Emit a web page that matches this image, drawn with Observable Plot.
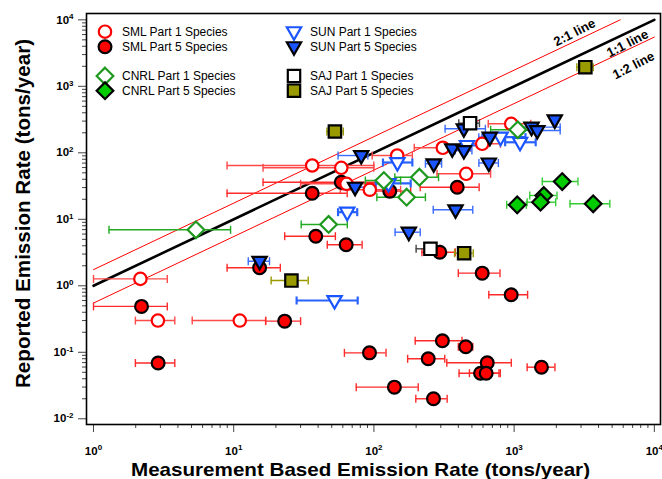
<!DOCTYPE html>
<html><head><meta charset="utf-8">
<script src="https://cdn.jsdelivr.net/npm/d3@7"></script>
<script src="https://cdn.jsdelivr.net/npm/@observablehq/plot@0.6"></script>
<style>
body{margin:0;background:#fff;}
svg{font-family:"Liberation Sans",Arial,sans-serif;}
</style>
</head><body><div id="chart"></div>
<script>
// Each row: [measured x, reported y, x error low, x error high]  (tons/year)
const smlPart1 = [
  [2.16,1.27,1.0,3.36],[2.88,0.30,1.99,3.80],[11.05,0.30,5.06,16.9],[36.3,64.4,8.97,99.8],
  [58.5,59.5,16.2,99.8],[63.8,34.2,30,130],[93.5,27.8,57.6,155],[146.6,91,97.2,188],
  [310,119,194,489],[592,136.5,416,799],[455,48.3,282,680],[953,273,654,1314]
];
const smlPart5 = [
  [2.2,0.49,1.0,3.36],[2.89,0.069,1.99,3.80],[15.3,1.87,8.97,21.5],[23.1,0.294,16.9,30],
  [36.3,24.7,8.97,64.5],[38.5,5.57,23.1,53.1],[63.4,4.14,46.5,82.4],[58.5,36.1,16.2,111],
  [129.8,26.5,98,183],[93,0.098,61.6,122],[140,0.0299,74.8,207],[266,0.020,199,333],
  [244,0.0798,174,320],[308,0.149,197,425],[452,0.121,400,507],[643,0.0695,331,955],
  [576,0.0485,405,780],[632,0.0485,480,797],[1567,0.0597,1239,1955],[953,0.732,660,1248],
  [592,1.55,400,793],[295,3.2,220,380],[393,30.4,214,563]
];
const sunPart1 = [
  [52.4,0.601,28.1,76.6],[64.5,12.8,55.5,76],[147,71.5,116,188],[127,34.6,103,183],
  [461,129,322,572],[800,172,594,1205],[1102,144,863,1425]
];
const sunPart5 = [
  [15.3,2.34,12.7,18.0],[81.2,91,55.5,90.5],[177.4,6.4,141.6,214],[267,68.4,233,304],
  [382,13.9,265,507],[660,70.3,561,772],[1949,313,1949,1949],[1331,243,1025,2130],
  [1462,216,1025,2130],[671,172,560,800],[362,115,300,430],[438,108,380,500],
  [438,230,322,624],[73.4,30.4,62.8,87.7]
];
const cnrlPart1 = [
  [5.38,6.95,1.29,9.5],[47.5,8.36,30.3,64.6],[117.7,38.3,86.9,155],[211,43,141,289],
  [171,21.5,105,233],[1062,222,680,1425]
];
const cnrlPart5 = [
  [2203,37,1588,2853],[1629,22.8,1293,2022],[1543,18.1,1239,1980],[1052,16.5,885,1222],
  [3664,17.1,2505,4816]
];
const sajPart1 = [
  [485,279,403,566],[253,3.6,200,297]
];
const sajPart5 = [
  [52.7,209,46.2,60.5],[25.8,1.2,18.5,34],[440,3.09,376,511],[3220,1937,2802,3665]
];

const seriesNames = ["SML Part 1 Species","SML Part 5 Species","SUN Part 1 Species","SUN Part 5 Species",
  "CNRL Part 1 Species","CNRL Part 5 Species","SAJ Part 1 Species","SAJ Part 5 Species"];
const seriesData = [smlPart1, smlPart5, sunPart1, sunPart5, cnrlPart1, cnrlPart5, sajPart1, sajPart5];

// reference lines
const refLineNames = ["2:1 line","1:1 line","1:2 line"];
const refLineRatios = [1.75, 1, 0.55];
const refLineXStart = [1, 1, 1];
const refLineXEnd = [5714, 10000, 10000];
const refLabelX = [2698, 6440, 7110];
const refLabelY = [6440, 4400, 2055];

const xDecades = [1,10,100,1000,10000];
const yDecades = [0.01,0.1,1,10,100,1000,10000];
const minorMultipliers = [2,3,4,5,6,7,8,9];

// ---------- symbols ----------
const symCircle = {draw(c,s){const r=Math.sqrt(s/Math.PI);c.moveTo(r,0);c.arc(0,0,r,0,2*Math.PI);c.closePath();}};
const symTriDown = {draw(c,s){const r=Math.sqrt(s/Math.PI);c.moveTo(-1.15*r,-0.72*r);c.lineTo(1.15*r,-0.72*r);c.lineTo(0,1.3*r);c.closePath();}};
const symDiamond = {draw(c,s){const r=Math.sqrt(s/Math.PI)*1.3;c.moveTo(0,-r);c.lineTo(r,0);c.lineTo(0,r);c.lineTo(-r,0);c.closePath();}};
const symSquare = {draw(c,s){const r=Math.sqrt(s/Math.PI);c.moveTo(-r,-r);c.lineTo(r,-r);c.lineTo(r,r);c.lineTo(-r,r);c.closePath();}};
const symCap = {draw(c,s){const r=Math.sqrt(s/Math.PI);c.moveTo(0,-r);c.lineTo(0,r);}};

const styles = [
  {sym:symCircle, fill:"white", stroke:"#ff0000", bar:"#ff4a4a", r:6.2, bw:1.4},
  {sym:symCircle, fill:"#ff0000", stroke:"black", bar:"#ff2a2a", r:6.4, bw:1.4},
  {sym:symTriDown, fill:"white", stroke:"#1a55ff", bar:"#2a62ff", r:6.2, bw:2.2},
  {sym:symTriDown, fill:"#1a55ff", stroke:"black", bar:"#3a6cff", r:6.2, bw:1.4},
  {sym:symDiamond, fill:"white", stroke:"#1f991f", bar:"#22aa22", r:6.4, bw:1.4},
  {sym:symDiamond, fill:"#00cc00", stroke:"black", bar:"#33cc33", r:6.4, bw:1.4},
  {sym:symSquare, fill:"white", stroke:"black", bar:"#444", r:6.2, bw:1.4},
  {sym:symSquare, fill:"#999900", stroke:"black", bar:"#9a9a00", r:6.2, bw:1.4}
];

const rows = [];
seriesData.forEach((arr,i)=>arr.forEach(d=>rows.push({s:i,x:d[0],y:d[1],lo:d[2],hi:d[3]})));

const lineRows = [];
refLineNames.forEach((n,i)=>{
  lineRows.push({name:n,x:refLineXStart[i],y:refLineXStart[i]*refLineRatios[i]});
  lineRows.push({name:n,x:refLineXEnd[i],y:refLineXEnd[i]*refLineRatios[i]});
});
const labelRows = refLineNames.map((n,i)=>({name:n,x:refLabelX[i],y:refLabelY[i]}));

const minorX = []; xDecades.slice(0,-1).forEach(d=>minorMultipliers.forEach(m=>minorX.push(d*m)));
const minorY = []; yDecades.slice(0,-1).forEach(d=>minorMultipliers.forEach(m=>minorY.push(d*m)));
const expFmt = d => "10^" + Math.round(Math.log10(d));

const marks = [
  Plot.line(lineRows.filter(d=>d.name!=="1:1 line"), {x:"x", y:"y", z:"name", stroke:"#ff0000", strokeWidth:1}),
  Plot.line(lineRows.filter(d=>d.name==="1:1 line"), {x:"x", y:"y", z:"name", stroke:"black", strokeWidth:2.6}),
  Plot.text(labelRows, {x:"x", y:"y", text:"name", rotate:-27, fontSize:13, fontWeight:"bold", fill:"black"}),
];
styles.forEach((st,i)=>{
  const d = rows.filter(r=>r.s===i && r.hi>r.lo);
  marks.push(Plot.ruleY(d, {y:"y", x1:"lo", x2:"hi", stroke:st.bar, strokeWidth:st.bw}));
  marks.push(Plot.dot(d, {x:"lo", y:"y", symbol:symCap, r:4, stroke:st.bar, strokeWidth:st.bw, fill:"none"}));
  marks.push(Plot.dot(d, {x:"hi", y:"y", symbol:symCap, r:4, stroke:st.bar, strokeWidth:st.bw, fill:"none"}));
});
const drawOrder = [1,0,2,3,4,5,6,7];
drawOrder.forEach(i=>{
  const st = styles[i];
  marks.push(Plot.dot(rows.filter(r=>r.s===i), {x:"x", y:"y", symbol:st.sym, r:st.r, fill:st.fill, stroke:st.stroke, strokeWidth:2.2}));
});
marks.push(
  Plot.axisX(minorX, {tickSize:4, text:null, stroke:"#444", label:null}),
  Plot.axisY(minorY, {tickSize:4, text:null, stroke:"#444", label:null}),
  Plot.axisX(xDecades, {tickSize:8, tickPadding:14, tickFormat:expFmt, fontSize:11.5, fontWeight:"bold", stroke:"#444", fill:"black", label:null}),
  Plot.axisY(yDecades, {tickSize:8, tickPadding:5, tickFormat:expFmt, fontSize:11.5, fontWeight:"bold", stroke:"#444", fill:"black", label:null}),
  Plot.frame({stroke:"black", strokeWidth:1.6})
);

const plot = Plot.plot({
  width:662, height:479,
  marginLeft:86, marginRight:2, marginTop:13, marginBottom:55,
  style:{background:"white", fontFamily:"Liberation Sans, Arial, sans-serif", color:"black"},
  x:{type:"log", domain:[Math.pow(10,-0.0499), Math.pow(10,4.044)], axis:null, label:null},
  y:{type:"log", domain:[Math.pow(10,-2.086), Math.pow(10,4.095)], axis:null, label:null},
  marks
});
document.getElementById("chart").appendChild(plot);

const svg = d3.select(plot);
// remove empty tick texts, superscript the exponent labels
svg.selectAll("text").each(function(){
  const t = this.textContent;
  if (t === "") { this.remove(); return; }
  const m = /^10\^(-?\d+)$/.exec(t);
  if (m) {
    const el = d3.select(this);
    el.text("10");
    el.append("tspan").attr("font-size", 8).attr("dy", "-0.55em").text(m[1]);
  }
});

// axis titles
svg.append("text").attr("x",360.5).attr("y",476).attr("text-anchor","middle")
  .attr("font-size",19).attr("font-weight","bold").attr("textLength",459).attr("lengthAdjust","spacingAndGlyphs")
  .text("Measurement Based Emission Rate (tons/year)");
svg.append("text").attr("transform","translate(30,213.5) rotate(-90)").attr("text-anchor","middle")
  .attr("font-size",20).attr("font-weight","bold").attr("textLength",349).attr("lengthAdjust","spacingAndGlyphs")
  .text("Reported Emission Rate (tons/year)");

// legend
const legendCol = [0,0,1,1,0,0,1,1];
const legendRow = [0,1,0,1,2,3,2,3];
const colSymX = [105,294], colTextX = [122,310], rowY = [31.7,46.7,76,90.7];
const lg = svg.append("g").attr("text-anchor","start");
seriesNames.forEach((n,i)=>{
  const st = styles[i];
  const cx = colSymX[legendCol[i]], cy = rowY[legendRow[i]];
  lg.append("path").attr("d", d3.symbol(st.sym, Math.PI*st.r*st.r)())
    .attr("transform",`translate(${cx},${cy})`).attr("fill",st.fill).attr("stroke",st.stroke).attr("stroke-width",2.2);
  lg.append("text").attr("x",colTextX[legendCol[i]]).attr("y",cy).attr("dy","0.36em")
    .attr("text-anchor","start").attr("font-size",12).attr("fill","black").text(n);
});
</script>
</body></html>
